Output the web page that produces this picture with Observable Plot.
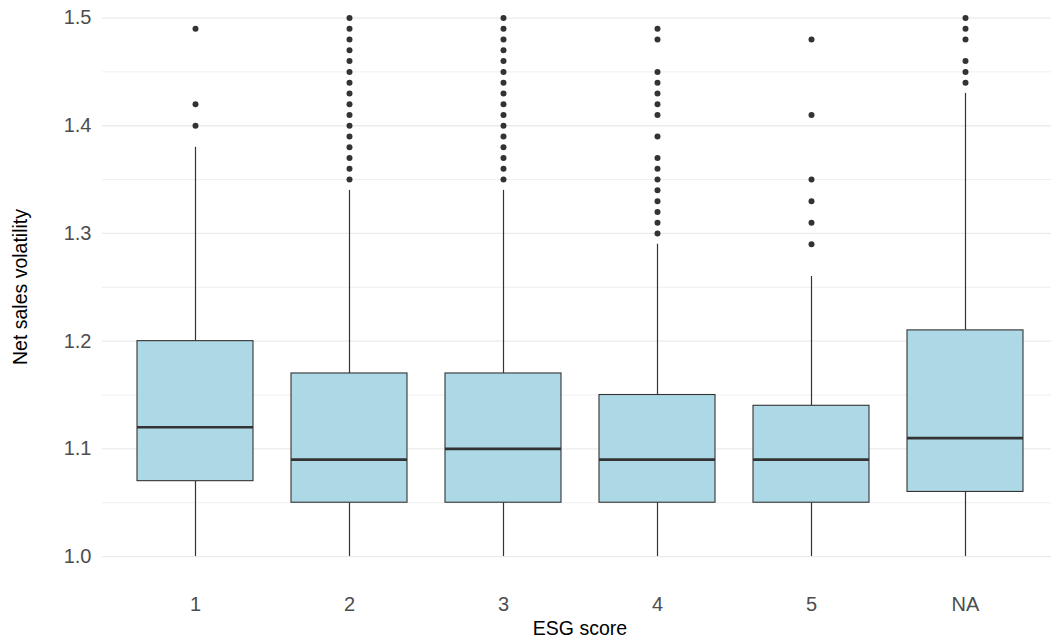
<!DOCTYPE html>
<html>
<head>
<meta charset="utf-8">
<script src="https://cdn.jsdelivr.net/npm/d3@7"></script>
<script src="https://cdn.jsdelivr.net/npm/@observablehq/plot@0.6"></script>
<style>
  html, body { margin: 0; padding: 0; background: #ffffff; }
  #chart svg { display: block; }
</style>
</head>
<body>
<div id="chart"></div>
<script>
// ---- Data ----
const categories = ["1", "2", "3", "4", "5", "NA"];
const whiskerLow  = [1.00, 1.00, 1.00, 1.00, 1.00, 1.00];
const q1          = [1.07, 1.05, 1.05, 1.05, 1.05, 1.06];
const medians     = [1.12, 1.09, 1.10, 1.09, 1.09, 1.11];
const q3          = [1.20, 1.17, 1.17, 1.15, 1.14, 1.21];
const whiskerHigh = [1.38, 1.34, 1.34, 1.29, 1.26, 1.43];

const outliers1  = [1.49, 1.42, 1.40];
const outliers2  = [1.50, 1.49, 1.48, 1.47, 1.46, 1.45, 1.44, 1.43, 1.42, 1.41, 1.40, 1.39, 1.38, 1.37, 1.36, 1.35];
const outliers3  = [1.50, 1.49, 1.48, 1.47, 1.46, 1.45, 1.44, 1.43, 1.42, 1.41, 1.40, 1.39, 1.38, 1.37, 1.36, 1.35];
const outliers4  = [1.49, 1.48, 1.45, 1.44, 1.43, 1.42, 1.41, 1.39, 1.37, 1.36, 1.35, 1.34, 1.33, 1.32, 1.31, 1.30];
const outliers5  = [1.48, 1.41, 1.35, 1.33, 1.31, 1.29];
const outliersNA = [1.50, 1.49, 1.48, 1.46, 1.45, 1.44];

const majorTicks = [1.0, 1.1, 1.2, 1.3, 1.4, 1.5];
const minorTicks = [1.05, 1.15, 1.25, 1.35, 1.45];

const xTitle = "ESG score";
const yTitle = "Net sales volatility";

// ---- Build tables ----
const boxes = categories.map((c, i) => ({
  cat: c, lo: whiskerLow[i], q1: q1[i], med: medians[i], q3: q3[i], hi: whiskerHigh[i]
}));
const outlierLists = [outliers1, outliers2, outliers3, outliers4, outliers5, outliersNA];
const outliers = outlierLists.flatMap((list, i) => list.map(v => ({cat: categories[i], v})));

const font = "'Liberation Sans', Arial, Helvetica, sans-serif";
const dark = "#333333";

const chart = Plot.plot({
  width: 1051,
  height: 642,
  marginLeft: 102,
  marginRight: 0,
  marginTop: 0,
  marginBottom: 59,
  style: { fontFamily: font, background: "#ffffff", overflow: "visible" },
  x: { domain: categories, range: [101.8, 1057], paddingInner: 0.25, paddingOuter: 0.225 },
  y: { domain: [0.975, 1.525], range: [583, -9.4] },
  marks: [
    Plot.ruleY(minorTicks, { stroke: "#ebebeb", strokeWidth: 0.8 }),
    Plot.ruleY(majorTicks, { stroke: "#ebebeb", strokeWidth: 1.3 }),
    Plot.axisY({
      ticks: majorTicks, tickSize: 0, tickPadding: 11, tickFormat: d3.format(".1f"),
      fontSize: 20, fill: "#4d4d4d", label: null
    }),
    Plot.axisX({
      tickSize: 0, tickPadding: 13, fontSize: 20, fill: "#4d4d4d", label: null
    }),
    Plot.ruleX(boxes, { x: "cat", y1: "hi", y2: "q3", stroke: dark, strokeWidth: 1.2 }),
    Plot.ruleX(boxes, { x: "cat", y1: "q1", y2: "lo", stroke: dark, strokeWidth: 1.2 }),
    Plot.barY(boxes, { x: "cat", y1: "q1", y2: "q3", fill: "#ADD8E6", stroke: dark, strokeWidth: 1.1 }),
    Plot.tickY(boxes, { x: "cat", y: "med", stroke: dark, strokeWidth: 2.6 }),
    Plot.dot(outliers, { x: "cat", y: "v", r: 3, fill: dark, stroke: null }),
    Plot.text([xTitle], { frameAnchor: "bottom", text: d => d, textAnchor: "middle", lineAnchor: "middle", dx: 3, dy: 45, fontSize: 19.5, fill: "#000000" }),
    Plot.text([yTitle], { frameAnchor: "left", text: d => d, textAnchor: "middle", lineAnchor: "middle", rotate: -90, dx: -82, dy: -5, fontSize: 19.5, fill: "#000000" })
  ]
});

document.getElementById("chart").appendChild(chart);
</script>
</body>
</html>
